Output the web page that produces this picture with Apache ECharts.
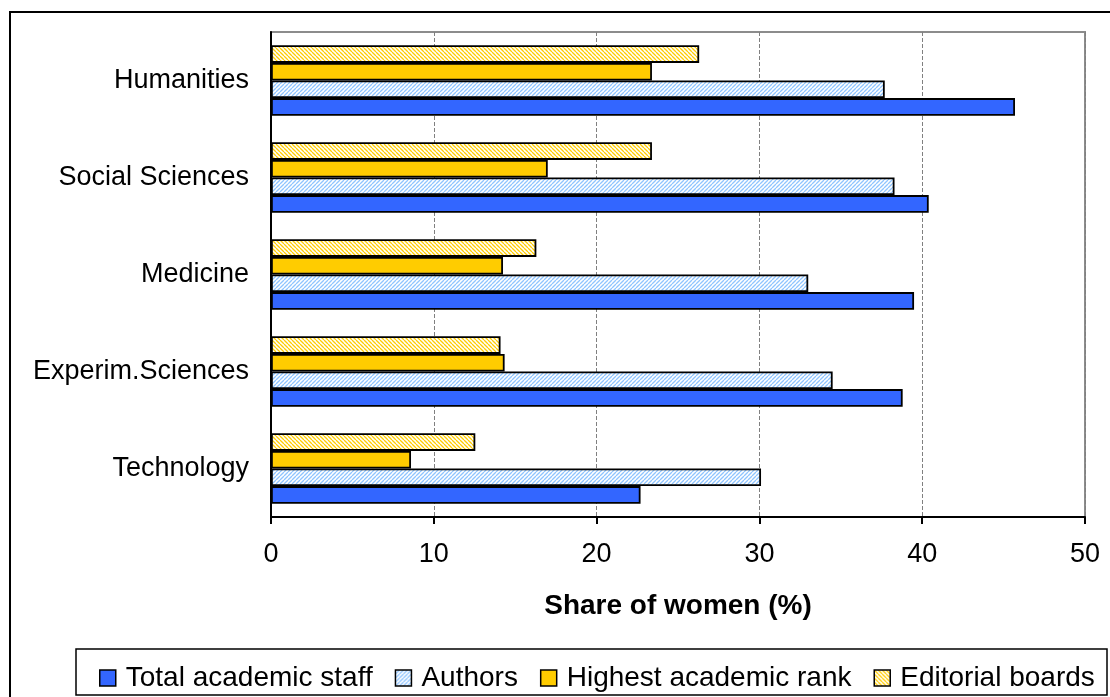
<!DOCTYPE html>
<html>
<head>
<meta charset="utf-8">
<script src="https://cdn.jsdelivr.net/npm/echarts@6/dist/echarts.min.js"></script>
<style>
html,body{margin:0;padding:0;background:#fff;}
#chart{width:1110px;height:697px;}
</style>
</head>
<body>
<div id="chart"></div>
<script>
const categories = ['Humanities', 'Social Sciences', 'Medicine', 'Experim.Sciences', 'Technology'];
const seriesNames = ['Total academic staff', 'Authors', 'Highest academic rank', 'Editorial boards'];
const totalStaff = [45.7, 40.4, 39.5, 38.8, 22.7];
const authors = [37.7, 38.3, 33.0, 34.5, 30.1];
const highestRank = [23.4, 17.0, 14.25, 14.35, 8.6];
const editorialBoards = [26.3, 23.4, 16.3, 14.1, 12.55];
const xTicks = [0, 10, 20, 30, 40, 50];

function makeHatch(lineColor, dir) {
  const c = document.createElement('canvas');
  const s = 4;
  c.width = s; c.height = s;
  const g = c.getContext('2d');
  g.fillStyle = '#ffffff';
  g.fillRect(0, 0, s, s);
  g.strokeStyle = lineColor;
  g.lineWidth = 1.3;
  g.beginPath();
  for (let k = -1; k <= 1; k++) {
    if (dir > 0) {
      g.moveTo(k * s, s); g.lineTo(k * s + s, 0);
    } else {
      g.moveTo(k * s, 0); g.lineTo(k * s + s, s);
    }
  }
  g.stroke();
  return c;
}

const blueHatch = makeHatch('#8ec4ff', 1);
const yellowHatch = makeHatch('#ffcc00', -1);

const font = '"Liberation Sans", Arial, sans-serif';
const chart = echarts.init(document.getElementById('chart'), null, {renderer: 'canvas'});

const seriesData = [totalStaff, authors, highestRank, editorialBoards];
const fills = ['#3366ff', {image: blueHatch, repeat: 'repeat'}, '#ffcc00', {image: yellowHatch, repeat: 'repeat'}];

// ECharts places the first series at the top of each band; draw Editorial boards first
const drawOrder = [3, 2, 1, 0];
const series = drawOrder.map(i => ({
  type: 'bar',
  name: seriesNames[i],
  data: seriesData[i],
  barWidth: 17.6,
  barGap: '0%',
  itemStyle: {color: fills[i], borderColor: '#000', borderWidth: 1.8},
  emphasis: {disabled: true},
  animation: false
}));

chart.setOption({
  animation: false,
  backgroundColor: '#fff',
  textStyle: {fontFamily: font},
  grid: {left: 271, right: 25, top: 32, bottom: 180, show: true, borderColor: '#8c8c8c', borderWidth: 2},
  xAxis: {
    type: 'value', min: xTicks[0], max: xTicks[xTicks.length - 1], interval: xTicks[1] - xTicks[0],
    name: 'Share of women (%)', nameLocation: 'middle', nameGap: 75,
    nameTextStyle: {fontSize: 28, fontWeight: 'bold', color: '#000', fontFamily: font},
    axisLine: {show: true, lineStyle: {color: '#000', width: 2}},
    axisTick: {show: true, length: 7, lineStyle: {color: '#000', width: 2}},
    axisLabel: {fontSize: 27, color: '#000', margin: 24, fontFamily: font},
    splitLine: {show: true, lineStyle: {color: '#808080', type: 'dashed', width: 1}}
  },
  yAxis: {
    type: 'category', data: categories, inverse: true,
    axisLine: {show: true, lineStyle: {color: '#000', width: 2}},
    axisTick: {show: false},
    axisLabel: {fontSize: 27, color: '#000', margin: 22, fontFamily: font},
    splitLine: {show: false}
  },
  legend: {
    data: seriesNames,
    left: 94, top: 659,
    icon: 'rect', itemWidth: 16, itemHeight: 16, itemGap: 22,
    itemStyle: {borderColor: '#000', borderWidth: 1.5},
    textStyle: {fontSize: 28, color: '#000', fontFamily: font, padding: [0, 0, 0, 5]},
    selectedMode: false
  },
  graphic: [
    {type: 'rect', shape: {x: 10, y: 12, width: 1120, height: 720}, style: {fill: null, stroke: '#000', lineWidth: 2}, silent: true},
    {type: 'rect', shape: {x: 76, y: 649, width: 1031, height: 46}, style: {fill: null, stroke: '#000', lineWidth: 1.5}, silent: true}
  ],
  series: series
});
</script>
</body>
</html>
